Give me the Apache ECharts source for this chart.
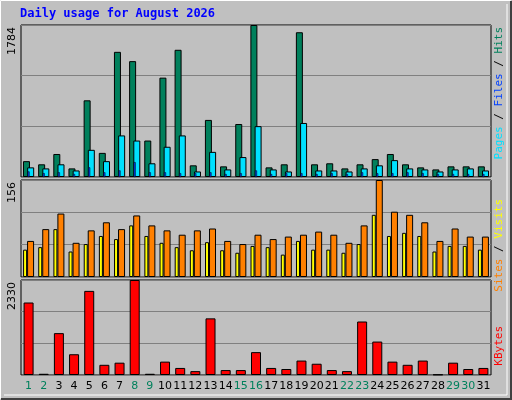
<!DOCTYPE html>
<html><head><meta charset="utf-8">
<script src="https://cdn.jsdelivr.net/npm/echarts@6/dist/echarts.min.js"></script>
<style>html,body{margin:0;padding:0;background:#c0c0c0}#c{width:512px;height:400px}</style>
</head><body><div id="c"></div>
<script>
const days = ['1','2','3','4','5','6','7','8','9','10','11','12','13','14','15','16','17','18','19','20','21','22','23','24','25','26','27','28','29','30','31'];
const weekend = [1,2,8,9,15,16,22,23,29,30];
const hits = [186,149,270,101,900,283,1469,1360,428,1166,1493,137,670,125,622,1784,113,149,1699,149,161,101,149,210,270,149,113,89,125,125,125];
const files = [113,101,149,77,319,186,488,428,161,355,488,65,295,89,234,597,89,65,634,77,77,65,101,137,198,101,89,65,89,101,77];
const pages = [65,45,55,35,113,55,77,174,55,55,45,45,55,35,45,77,35,45,45,35,45,35,55,45,45,55,45,35,35,35,35];
const visits = [58,77,102,55,75,88,77,99,83,75,68,75,78,58,53,68,61,65,68,73,68,55,83,156,105,100,88,58,78,65,65];
const sites = [44,48,77,41,53,66,61,83,66,55,48,43,56,43,39,50,48,36,58,44,44,39,53,100,66,71,66,41,50,50,44];
const kbytes = [1778,30,1027,509,2063,250,302,2330,30,328,173,95,1389,121,121,561,173,147,354,276,121,95,1312,820,328,250,354,12,302,147,173];
const maxHits = 1784, maxVisits = 156, maxKB = 2330;

const chart = echarts.init(document.getElementById('c'), null, {renderer:'canvas'});
const L = 21, R = 21;
const grids = [
  {left:L, right:R, top:25, height:152},
  {left:L, right:R, top:180, height:97},
  {left:L, right:R, top:280, height:95}
].map(g => Object.assign(g, {show:true, backgroundColor:'#c0c0c0', borderColor:'#000', borderWidth:1, containLabel:false}));
const bs = {borderColor:'#000', borderWidth:1};
function xa(gi, show, hidden){
  return {type:'category', data:days, gridIndex:gi, show:!hidden,
    axisLine:{show:false}, axisTick:{show:false}, splitLine:{show:false},
    axisLabel:{show:show, interval:0, margin:6, fontFamily:'DejaVu Sans', fontSize:11,
      formatter:(v)=> weekend.includes(+v) ? '{g|'+v+'}' : '{b|'+v+'}',
      rich:{g:{color:'#00805c', fontFamily:'DejaVu Sans', fontSize:11}, b:{color:'#000', fontFamily:'DejaVu Sans', fontSize:11}}}};
}
function ya(gi, max){
  return {type:'value', gridIndex:gi, min:0, max:max, interval:max/3,
    axisLine:{show:false}, axisTick:{show:false}, axisLabel:{show:false},
    splitLine:{show:true, lineStyle:{color:'#808080', width:1}}};
}
const lab = {fontFamily:'DejaVu Sans Mono', fontSize:11};
chart.setOption({
  animation:false,
  backgroundColor:'#c0c0c0',
  grid:grids,
  xAxis:[xa(0,false), xa(0,false,true), xa(1,false), xa(2,true)],
  yAxis:[ya(0,maxHits), ya(0,maxHits), ya(1,maxVisits), ya(2,maxKB)],
  series:[
    {type:'bar', xAxisIndex:0, yAxisIndex:0, data:hits, barWidth:7, barGap:'-40%', itemStyle:Object.assign({color:'#00805c'},bs), z:2},
    {type:'bar', xAxisIndex:0, yAxisIndex:0, data:files, barWidth:7, itemStyle:Object.assign({color:'#00e0ff'},bs), z:3},
    {type:'bar', xAxisIndex:1, yAxisIndex:1, data:pages, barWidth:2, itemStyle:{color:'#0040ff', borderColor:'#000', borderWidth:0.5}, z:4},
    {type:'bar', xAxisIndex:2, yAxisIndex:2, data:sites, barWidth:4, barGap:'0%', itemStyle:Object.assign({color:'#ffff00'},bs)},
    {type:'bar', xAxisIndex:2, yAxisIndex:2, data:visits, barWidth:7, itemStyle:Object.assign({color:'#ff8000'},bs)},
    {type:'bar', xAxisIndex:3, yAxisIndex:3, data:kbytes, barWidth:10, itemStyle:Object.assign({color:'#ff0000'},bs)}
  ],
  graphic:[
    {type:'rect', shape:{x:0.5,y:0.5,width:510,height:398}, style:{fill:'none', stroke:'#ffffff', lineWidth:1}, silent:true, z:-1},
    {type:'polyline', shape:{points:[[511,1],[511,399],[1,399]]}, style:{stroke:'#404040', lineWidth:2, fill:null}, silent:true},
    {type:'polyline', shape:{points:[[507,4],[507,395],[4,395]]}, style:{stroke:'#ffffff', lineWidth:1, fill:null}, silent:true},
    {type:'text', x:20, y:8, style:{text:'Daily usage for August 2026', fill:'#0000ff', font:'bold 12px "DejaVu Sans Mono"'}},
    {type:'text', x:12, y:27, rotation:Math.PI/2, style:{text:String(maxHits), fill:'#000', font:'11px "DejaVu Sans"', align:'right', verticalAlign:'middle'}},
    {type:'text', x:12, y:182, rotation:Math.PI/2, style:{text:String(maxVisits), fill:'#000', font:'11px "DejaVu Sans"', align:'right', verticalAlign:'middle'}},
    {type:'text', x:12, y:282, rotation:Math.PI/2, style:{text:String(maxKB), fill:'#000', font:'11px "DejaVu Sans"', align:'right', verticalAlign:'middle'}},
    {type:'text', x:499, y:27, rotation:Math.PI/2, style:{text:'{a|Pages}{k| / }{b|Files}{k| / }{c|Hits}', align:'right', verticalAlign:'middle',
      rich:{a:Object.assign({fill:'#00e0ff'},lab), b:Object.assign({fill:'#0040ff'},lab), c:Object.assign({fill:'#00805c'},lab), k:Object.assign({fill:'#000'},lab)}}},
    {type:'text', x:499, y:199, rotation:Math.PI/2, style:{text:'{a|Sites}{k| / }{b|Visits}', align:'right', verticalAlign:'middle',
      rich:{a:Object.assign({fill:'#ff8000'},lab), b:Object.assign({fill:'#ffff00'},lab), k:Object.assign({fill:'#000'},lab)}}},
    {type:'text', x:499, y:326, rotation:Math.PI/2, style:{text:'KBytes', fill:'#ff0000', font:'11px "DejaVu Sans Mono"', align:'right', verticalAlign:'middle'}}
  ]
});
</script></body></html>
